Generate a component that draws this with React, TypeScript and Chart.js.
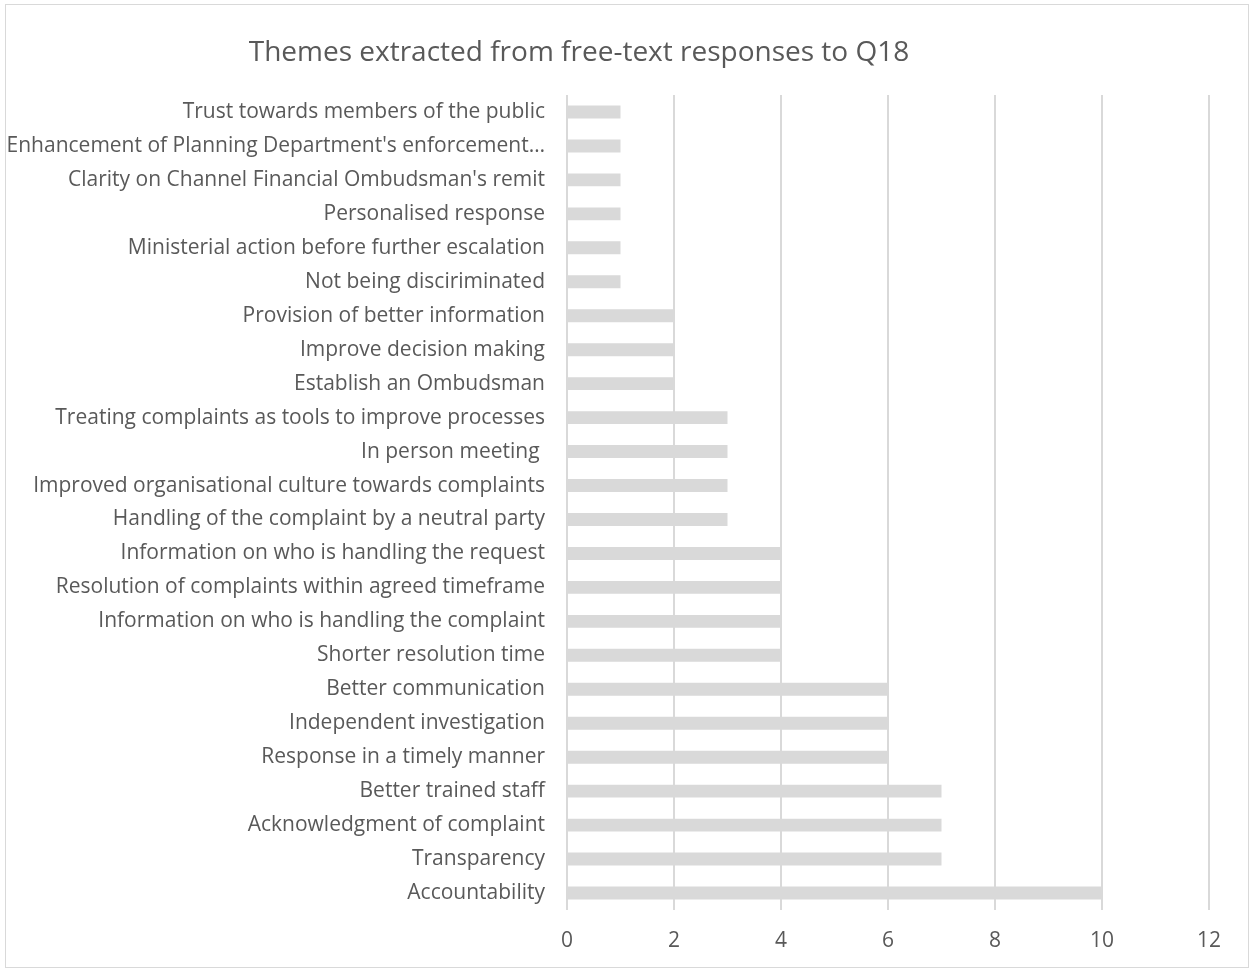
import React, { useEffect, useRef } from "react";
import { Chart, registerables } from "chart.js";

Chart.register(...registerables);

const TITLE = "Themes extracted from free-text responses to Q18";

const categories = [
  "Trust towards members of the public",
  "Enhancement of Planning Department's enforcement…",
  "Clarity on Channel Financial Ombudsman's remit",
  "Personalised response",
  "Ministerial action before further escalation",
  "Not being disciriminated",
  "Provision of better information",
  "Improve decision making",
  "Establish an Ombudsman",
  "Treating complaints as tools to improve processes",
  "In person meeting ",
  "Improved organisational culture towards complaints",
  "Handling of the complaint by a neutral party",
  "Information on who is handling the request",
  "Resolution of complaints within agreed timeframe",
  "Information on who is handling the complaint",
  "Shorter resolution time",
  "Better communication",
  "Independent investigation",
  "Response in a timely manner",
  "Better trained staff",
  "Acknowledgment of complaint",
  "Transparency",
  "Accountability",
];

const counts = [1, 1, 1, 1, 1, 1, 2, 2, 2, 3, 3, 3, 3, 4, 4, 4, 4, 6, 6, 6, 7, 7, 7, 10];

const xMin = 0;
const xMax = 12;
const xStep = 2;

const FONT = "'Open Sans', sans-serif";
const TEXT = "#595959";
const GREY = "#d9d9d9";

export default function App() {
  const ref = useRef<HTMLCanvasElement | null>(null);

  useEffect(() => {
    document.body.style.margin = "0";
    const canvas = ref.current!;
    const framePlugin = {
      id: "frame",
      beforeDraw(chart: any) {
        const ctx = chart.ctx;
        ctx.save();
        ctx.fillStyle = "#ffffff";
        ctx.fillRect(0, 0, chart.width, chart.height);
        ctx.strokeStyle = GREY;
        ctx.lineWidth = 1;
        ctx.strokeRect(5.5, 4.5, 1243, 963);
        ctx.fillStyle = TEXT;
        ctx.font = `28px ${FONT}`;
        ctx.textAlign = "center";
        ctx.textBaseline = "alphabetic";
        ctx.fillText(TITLE, 579, 61);
        ctx.restore();
      },
    };
    const chart = new Chart(canvas, {
      type: "bar",
      data: {
        labels: categories,
        datasets: [
          {
            data: counts,
            backgroundColor: GREY,
            borderWidth: 0,
            barPercentage: 0.38,
            categoryPercentage: 1,
          },
        ],
      },
      options: {
        indexAxis: "y",
        animation: false,
        responsive: false,
        devicePixelRatio: 1,
        layout: { padding: { top: 95, right: 41, bottom: 0, left: 0 } },
        plugins: {
          legend: { display: false },
          title: { display: false },
          tooltip: { enabled: false },
        },
        scales: {
          x: {
            min: xMin,
            max: xMax,
            ticks: {
              stepSize: xStep,
              color: TEXT,
              font: { family: FONT, size: 21 },
              padding: 18,
            },
            grid: { color: GREY, lineWidth: 2, drawTicks: false },
            border: { display: false },
            afterFit(scale: any) {
              scale.height = 59;
            },
          },
          y: {
            ticks: {
              color: TEXT,
              font: { family: FONT, size: 21 },
              padding: 22,
              autoSkip: false,
            },
            grid: { display: false, drawTicks: false },
            border: { display: false },
            afterFit(scale: any) {
              scale.width = 567;
            },
          },
        },
      },
      plugins: [framePlugin],
    });
    return () => chart.destroy();
  }, []);

  return (
    <div style={{ position: "absolute", left: 0, top: 0, width: 1250, height: 969 }}>
      <canvas ref={ref} width={1250} height={969} style={{ width: 1250, height: 969, display: "block" }} />
    </div>
  );
}
